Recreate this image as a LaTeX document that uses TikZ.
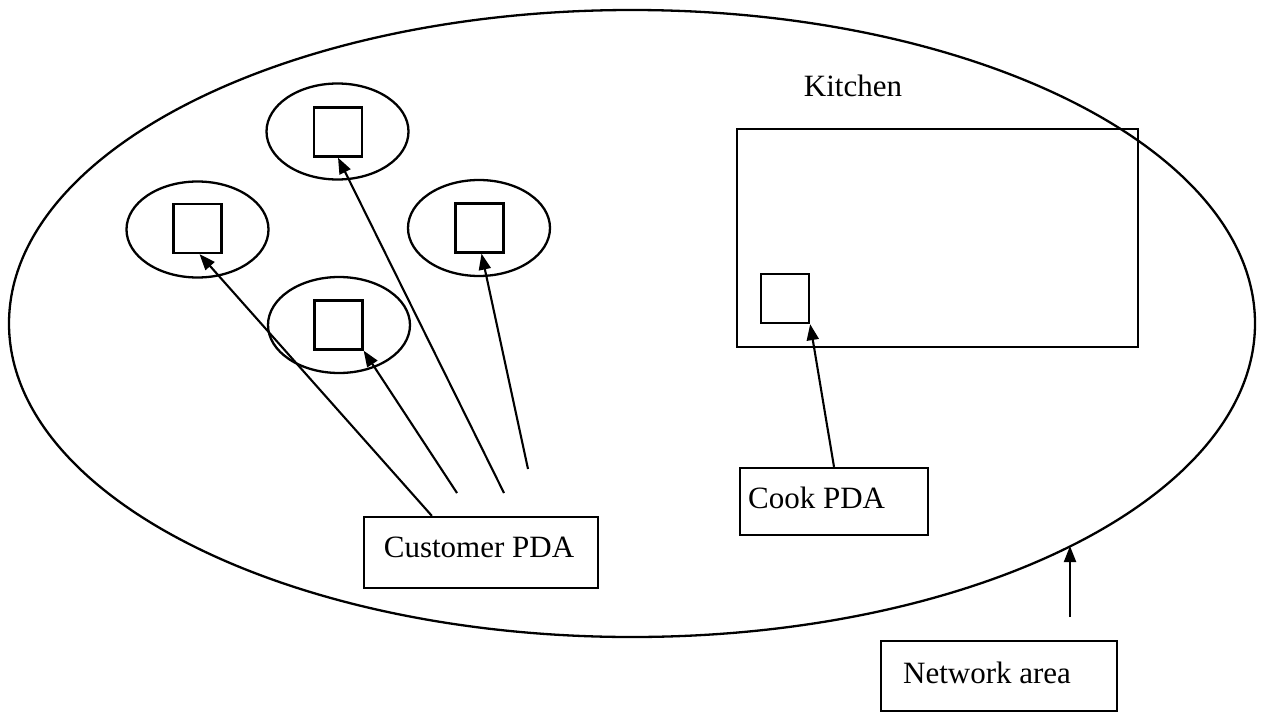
\documentclass[tikz,border=0pt]{standalone}
\usepackage{fontspec}
\setmainfont{Liberation Serif}
\usetikzlibrary{arrows.meta,shapes.geometric,calc}
\begin{document}
\begin{tikzpicture}[x=1pt,y=-1pt,
  line width=2.3pt,
  oval/.style={draw, ellipse, minimum width=142pt, minimum height=96pt, inner sep=0pt},
  pda/.style={draw, rectangle, minimum width=48pt, minimum height=49pt, inner sep=0pt},
  txt/.style={font=\fontsize{31}{36}\selectfont, inner sep=0pt},
  lblbox/.style={draw, rectangle, inner sep=0pt},
  link/.style={-{Triangle[length=16pt,width=12pt]}, line width=2.1pt}
]
\useasboundingbox (0,0) rectangle (1265,712);
% network area
\node[draw, ellipse, minimum width=1246pt, minimum height=627pt, inner sep=0pt] (net) at (632,323.5) {};
% customer tables
\node[oval] (eT) at (337.5,131.5) {};
\node[oval] (eL) at (197.5,229.5) {};
\node[oval] (eR) at (479,228) {};
\node[oval] (eB) at (339,325) {};
\node[pda] (sqT) at (338,132) {};
\node[pda] (sqL) at (197.5,228.5) {};
\node[pda] (sqR) at (479.5,228) {};
\node[pda] (sqB) at (338.5,325) {};
% kitchen
\node[txt] (kitlbl) at (853,86) {Kitchen};
\node[draw, rectangle, minimum width=401pt, minimum height=218pt, inner sep=0pt] (kitchen) at (937.5,238) {};
\node[pda] (sqK) at (785,298.5) {};
% labels
\node[lblbox, minimum width=234pt, minimum height=71pt] (cust) at (481,552.5) {};
\node[txt, anchor=base] (custtxt) at (479,557) {Customer PDA};
\node[lblbox, minimum width=188pt, minimum height=67pt] (cook) at (834,501.5) {};
\node[txt, anchor=base west] (cooktxt) at (747,508) {Cook PDA};
\node[lblbox, minimum width=236pt, minimum height=70pt] (netlbl) at (999,676) {};
\node[txt, anchor=base west] (nettxt) at (902,683) {Network area};
% free ends
\coordinate (sB) at (457,493);
\coordinate (sT) at (504,493);
\coordinate (sR) at (528,469);
\coordinate (sN) at (1070,617);
\coordinate (tN) at (1070,546);
% connectors
\draw[link] ($(cust.north west)+(69,0)$) -- ($(sqL.south)+(2,0)$);
\draw[link] (sB) -- (sqB.south east);
\draw[link] (sT) -- (sqT.south);
\draw[link] (sR) -- ($(sqR.south)+(2,0)$);
\draw[link] (cook.north) -- (sqK.south east);
\draw[link] (sN) -- (tN);
\end{tikzpicture}
\end{document}
